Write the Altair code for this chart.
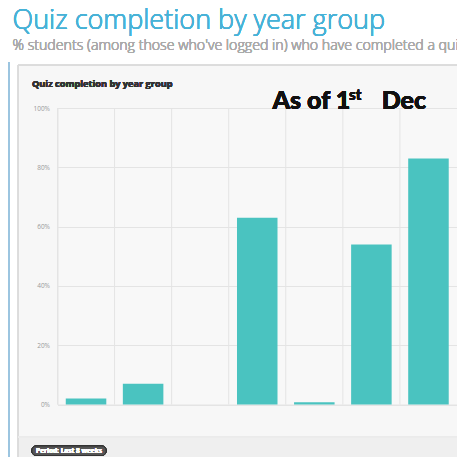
import altair as alt
import pandas as pd

# ---- data ----
years = ["Y13", "Y12", "Y11", "Y10", "Y9", "Y8", "Y7"]
completion = [2, 7, 0, 63, 0.8, 54, 83]
y_ticks = [0, 20, 40, 60, 80, 100]

title_text = "Quiz completion by year group"
subtitle_text = "% students (among those who've logged in) who have completed a quiz"
inner_title = "Quiz completion by year group"
note_main = "As of 1"
note_sup = "st"
note_end = "Dec"
footer_text = "Period: Last 8 weeks"

df = pd.DataFrame({"year": years, "pct": completion})

W, H = 399.5, 296.5
R = W  # right edge of chart in view coords
GRID = "#e4e4e4"
TEAL = "#4ac3c0"

xscale = alt.Scale(domain=years, paddingInner=0, paddingOuter=0)

# vertical grid rules at band boundaries
vrules = alt.Chart(df).mark_rule(color=GRID, strokeWidth=1).encode(
    x=alt.X("year:N", scale=xscale, bandPosition=0, axis=None, sort=years)
)

bars = alt.Chart(df).mark_bar(color=TEAL, width=alt.RelativeBandSize(0.71)).encode(
    x=alt.X("year:N", scale=xscale, sort=years,
            axis=alt.Axis(title=None, labelAngle=0, ticks=False, domain=False, grid=False,
                          labelColor="#9a9a9a", labelFontSize=7.5, labelPadding=9,
                          labelFont="Open Sans")),
    y=alt.Y("pct:Q", scale=alt.Scale(domain=[0, 100], nice=False),
            axis=alt.Axis(title=None, values=y_ticks, labelExpr="datum.value + '%'",
                          ticks=False, domain=False, grid=True, gridColor=GRID,
                          labelColor="#9a9a9a", labelFontSize=6.5, labelPadding=8,
                          labelFont="Open Sans")),
)


def rect(x1, x2, y1, y2, color, **kw):
    return alt.Chart(df).mark_rect(color=color, **kw).encode(
        x=alt.value(x1), x2=alt.value(x2), y=alt.value(y1), y2=alt.value(y2)
    )


def hline(x1, x2, y, color):
    return alt.Chart(df).mark_rule(color=color).encode(
        x=alt.value(x1), x2=alt.value(x2), y=alt.value(y), y2=alt.value(y)
    )


def vline(x, y1, y2, color):
    return alt.Chart(df).mark_rule(color=color).encode(
        x=alt.value(x), x2=alt.value(x), y=alt.value(y1), y2=alt.value(y2)
    )


def text(s, x, y, size, color, weight="normal", font="Open Sans", align="left"):
    return alt.Chart(df).mark_text(
        align=align, baseline="alphabetic", fontSize=size, color=color,
        fontWeight=weight, font=font
    ).encode(x=alt.value(x), y=alt.value(y), text=alt.value(s))


# decorations (view coords: page_x - 57.5, page_y - 108)
white_top = rect(-49.5, R, -100, -43, "white")
blue_strip = rect(-49.5, -47.5, -46, 350, "#9cc5e0")
white_left = rect(-47.5, -39.5, -43, 350, "white")
footer = rect(-39.5, R, 329, 350, "#efefef")
border_top = hline(-39.5, R, -43, "#dcdcdc")
border_left = vline(-39.5, -43, 350, "#dcdcdc")
border_footer = hline(-39.5, R, 329, "#ebebeb")

title = text(title_text, -45, -79.5, 27, "#47b2d7", weight=300)
subtitle = text(subtitle_text, -45, -58, 14.2, "#aaaaaa", weight=300)
inner = text(inner_title, -25.5, -21, 9.2, "#333333", weight="bold")

note1 = text(note_main, 215, 1.3, 25, "#111111", weight=900, font="Lato")
note2 = text(note_sup, 291.5, -7.8, 15, "#111111", weight=900, font="Lato")
note3 = text(note_end, 324.2, 1.3, 25, "#111111", weight=900, font="Lato")

pill = alt.Chart(df).mark_rect(color="#555555", cornerRadius=4, stroke="#333333", strokeWidth=1).encode(
    x=alt.value(-25.5), x2=alt.value(48.5), y=alt.value(338), y2=alt.value(347.5)
)
pill_text = text(footer_text, 11.5, 345.3, 6.5, "white", weight="bold", align="center")

chart = alt.layer(
    white_top, blue_strip, white_left, footer,
    border_top, border_left, border_footer,
    vrules, bars,
    title, subtitle, inner, note1, note2, note3, pill, pill_text,
).properties(
    width=W, height=H,
    autosize=alt.AutoSizeParams(type="none"),
    padding={"left": 49.5, "top": 100, "right": 0, "bottom": 52.5},
    background="#f7f7f7",
).configure_view(stroke=GRID, fill="#f8f8f8")

chart.save("out.html", embed_options={"renderer": "svg", "actions": False})
